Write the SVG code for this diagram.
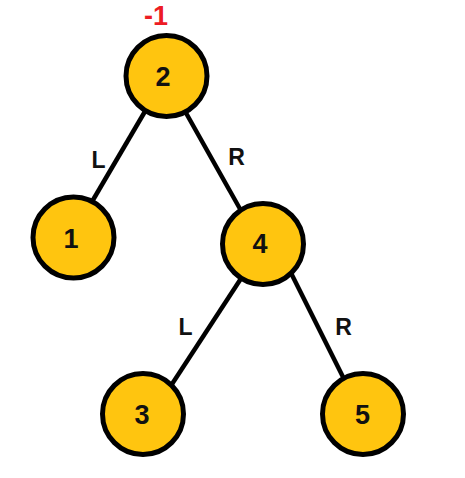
<svg xmlns="http://www.w3.org/2000/svg" width="465" height="478" viewBox="0 0 465 478">
<style>
.node{fill:#FFC50F;stroke:#000;stroke-width:5}
.num{font-family:"Liberation Sans",Arial,sans-serif;font-weight:bold;font-size:27px;fill:#111;text-anchor:middle}
.lbl{font-family:"Liberation Sans",Arial,sans-serif;font-weight:bold;font-size:23px;fill:#111;text-anchor:middle}
.edge{stroke:#000;stroke-width:4.5;stroke-linecap:butt}
</style>
<rect width="465" height="478" fill="#fff"/>
<g id="edges">
<line class="edge" x1="151.7" y1="100" x2="78.3" y2="225"/>
<line class="edge" x1="178.7" y1="100" x2="251.9" y2="230"/>
<line class="edge" x1="251.8" y1="262" x2="161.6" y2="400"/>
<line class="edge" x1="285.5" y1="262" x2="354.5" y2="400"/>
<text class="lbl" x="98.5" y="168">L</text>
<text class="lbl" x="236.5" y="165">R</text>
<text class="lbl" x="185.5" y="335">L</text>
<text class="lbl" x="343.5" y="335">R</text>
</g>
<g id="node2">
<circle class="node" cx="166.5" cy="76" r="40.5"/>
<text class="num" x="163" y="86">2</text>
<text x="156" y="25" font-family="Liberation Sans,Arial,sans-serif" font-weight="bold" font-size="27" fill="#ED1C24" text-anchor="middle">-1</text>
</g>
<g id="node1">
<circle class="node" cx="73.5" cy="237.5" r="40.5"/>
<text class="num" x="71" y="248">1</text>
</g>
<g id="node4">
<circle class="node" cx="263" cy="244" r="40.5"/>
<text class="num" x="260" y="253">4</text>
</g>
<g id="node3">
<circle class="node" cx="143" cy="414" r="40.5"/>
<text class="num" x="142" y="424" fill="#111">3</text>
</g>
<g id="node5">
<circle class="node" cx="363" cy="414" r="40.5"/>
<text class="num" x="362.5" y="424">5</text>
</g>
</svg>
